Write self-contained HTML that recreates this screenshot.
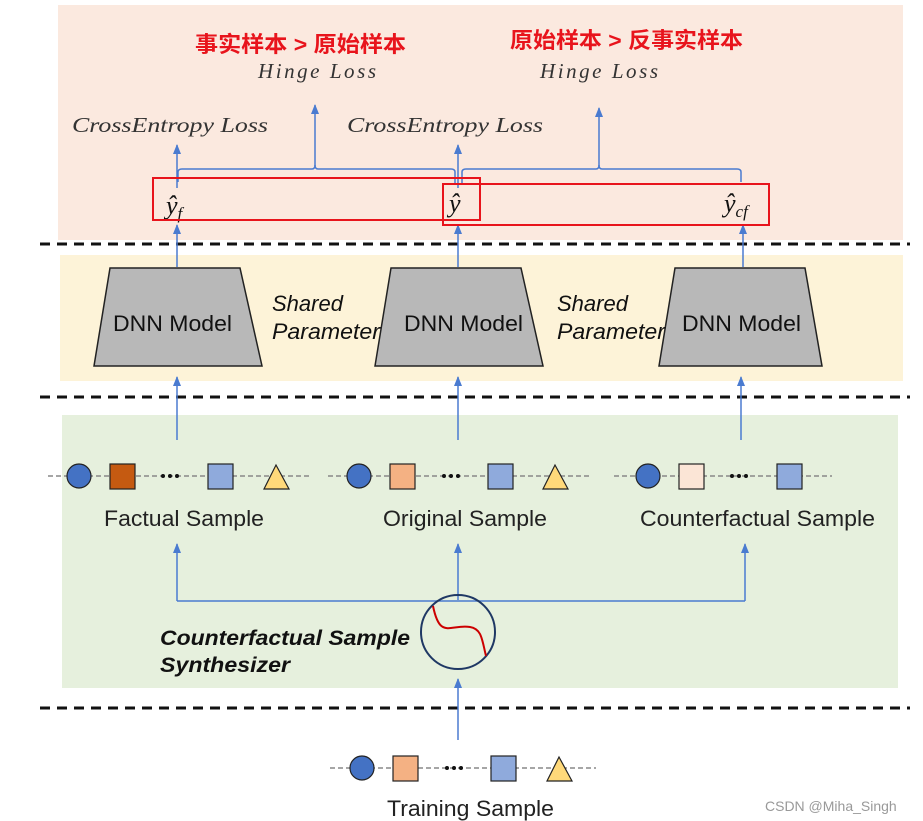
<!DOCTYPE html>
<html><head><meta charset="utf-8"><style>
body{margin:0;background:#fff;}
svg{display:block;font-family:"Liberation Sans","Noto Sans CJK SC",sans-serif;}
</style></head><body>
<svg width="923" height="821" viewBox="0 0 923 821" xmlns="http://www.w3.org/2000/svg">
<defs><marker id="a" markerWidth="10" markerHeight="10" refX="9" refY="4" orient="auto" markerUnits="userSpaceOnUse"><path d="M0,0 L10,4 L0,8 Z" fill="#4a7bd0"/></marker></defs>
<rect x="58" y="5" width="845" height="235" fill="#fbe9df"/>
<rect x="60" y="255" width="843" height="126" fill="#fdf3d8"/>
<rect x="62" y="415" width="836" height="273" fill="#e6f0dd"/>
<g stroke="#111" stroke-width="3" stroke-dasharray="10,7">
<line x1="40" y1="244" x2="910" y2="244"/><line x1="40" y1="397" x2="910" y2="397"/><line x1="40" y1="708" x2="910" y2="708"/></g>
<g fill="#e8141c" font-weight="bold" font-size="22">
<text x="195" y="52" textLength="211" lengthAdjust="spacingAndGlyphs">事实样本 &gt; 原始样本</text><text x="510" y="48" textLength="233" lengthAdjust="spacingAndGlyphs">原始样本 &gt; 反事实样本</text></g>
<g font-family="'Liberation Serif',serif" font-style="italic" font-size="21" fill="#333">
<text x="258" y="78" textLength="118" lengthAdjust="spacing">Hinge  Loss</text><text x="540" y="78" textLength="118" lengthAdjust="spacing">Hinge  Loss</text>
<text x="72" y="132" textLength="196" lengthAdjust="spacingAndGlyphs">CrossEntropy Loss</text><text x="347" y="132" textLength="196" lengthAdjust="spacingAndGlyphs">CrossEntropy Loss</text></g>
<g font-family="'Liberation Serif',serif" font-style="italic" font-size="26" fill="#111">
<text x="166" y="214">ŷ<tspan font-size="17" dy="5">f</tspan></text>
<text x="449" y="212">ŷ</text>
<text x="724" y="212">ŷ<tspan font-size="17" dy="5">cf</tspan></text></g>
<g stroke="#4a7bd0" stroke-width="1.5" fill="none">
<line x1="177" y1="188" x2="177" y2="145" marker-end="url(#a)"/>
<line x1="458" y1="188" x2="458" y2="145" marker-end="url(#a)"/>
<path d="M178,182 V172 Q178,169 182,169 H312 Q315,169 315,165 Q315,169 318,169 H451 Q455,169 455,172 V185"/>
<path d="M462,185 V172 Q462,169 466,169 H596 Q599,169 599,165 Q599,169 602,169 H737 Q741,169 741,172 V182"/>
<line x1="315" y1="166" x2="315" y2="105" marker-end="url(#a)"/>
<line x1="599" y1="166" x2="599" y2="108" marker-end="url(#a)"/>
<line x1="177" y1="267" x2="177" y2="225" marker-end="url(#a)"/>
<line x1="458" y1="267" x2="458" y2="225" marker-end="url(#a)"/>
<line x1="743" y1="267" x2="743" y2="225" marker-end="url(#a)"/>
<line x1="177" y1="440" x2="177" y2="377" marker-end="url(#a)"/>
<line x1="458" y1="440" x2="458" y2="377" marker-end="url(#a)"/>
<line x1="741" y1="440" x2="741" y2="377" marker-end="url(#a)"/>
<path d="M177,601 H745"/>
<line x1="177" y1="601" x2="177" y2="544" marker-end="url(#a)"/>
<line x1="745" y1="601" x2="745" y2="544" marker-end="url(#a)"/>
<line x1="458" y1="600" x2="458" y2="544" marker-end="url(#a)"/>
<line x1="458" y1="740" x2="458" y2="679" marker-end="url(#a)"/>
</g>
<g stroke="#e8141c" stroke-width="2" fill="none">
<rect x="153" y="178" width="327" height="42"/><rect x="443" y="184" width="326" height="41"/></g>
<g fill="#b8b8b8" stroke="#222" stroke-width="1.5">
<path d="M110,268 H240 L262,366 H94 Z"/><path d="M391,268 H521 L543,366 H375 Z"/><path d="M675,268 H805 L822,366 H659 Z"/></g>
<g font-size="22" fill="#111"><text x="113" y="331" textLength="119" lengthAdjust="spacingAndGlyphs">DNN Model</text><text x="404" y="331" textLength="119" lengthAdjust="spacingAndGlyphs">DNN Model</text><text x="682" y="331" textLength="119" lengthAdjust="spacingAndGlyphs">DNN Model</text></g>
<g font-size="22" fill="#111" font-style="italic"><text x="272" y="311">Shared</text><text x="272" y="339" textLength="108" lengthAdjust="spacingAndGlyphs">Parameter</text><text x="557" y="311">Shared</text><text x="557" y="339" textLength="108" lengthAdjust="spacingAndGlyphs">Parameter</text></g>
<g stroke="#888" stroke-width="1.5" stroke-dasharray="5,3"><line x1="48" y1="476" x2="310" y2="476"/><line x1="328" y1="476" x2="592" y2="476"/><line x1="614" y1="476" x2="832" y2="476"/><line x1="330" y1="768" x2="596" y2="768"/></g>
<g stroke="#222" stroke-width="1.2">
<circle cx="79" cy="476" r="12" fill="#4472c4"/><rect x="110" y="464" width="25" height="25" fill="#c55a11"/><rect x="208" y="464" width="25" height="25" fill="#8faadc"/><path d="M264,489 L276,465 L289,489 Z" fill="#ffd97a"/>
<circle cx="359" cy="476" r="12" fill="#4472c4"/><rect x="390" y="464" width="25" height="25" fill="#f4b183"/><rect x="488" y="464" width="25" height="25" fill="#8faadc"/><path d="M543,489 L555,465 L568,489 Z" fill="#ffd97a"/>
<circle cx="648" cy="476" r="12" fill="#4472c4"/><rect x="679" y="464" width="25" height="25" fill="#fbe5d6"/><rect x="777" y="464" width="25" height="25" fill="#8faadc"/>
<circle cx="362" cy="768" r="12" fill="#4472c4"/><rect x="393" y="756" width="25" height="25" fill="#f4b183"/><rect x="491" y="756" width="25" height="25" fill="#8faadc"/><path d="M547,781 L559,757 L572,781 Z" fill="#ffd97a"/></g>
<g fill="#111"><circle cx="163" cy="476" r="2"/><circle cx="170" cy="476" r="2"/><circle cx="177" cy="476" r="2"/>
<circle cx="444" cy="476" r="2"/><circle cx="451" cy="476" r="2"/><circle cx="458" cy="476" r="2"/>
<circle cx="732" cy="476" r="2"/><circle cx="739" cy="476" r="2"/><circle cx="746" cy="476" r="2"/>
<circle cx="447" cy="768" r="2"/><circle cx="454" cy="768" r="2"/><circle cx="461" cy="768" r="2"/></g>
<g font-size="22" fill="#222"><text x="104" y="526" textLength="160" lengthAdjust="spacingAndGlyphs">Factual Sample</text><text x="383" y="526" textLength="164" lengthAdjust="spacingAndGlyphs">Original Sample</text><text x="640" y="526" textLength="235" lengthAdjust="spacingAndGlyphs">Counterfactual Sample</text><text x="387" y="816" textLength="167" lengthAdjust="spacingAndGlyphs">Training Sample</text></g>
<g font-size="21" font-weight="bold" font-style="italic" fill="#111"><text x="160" y="645" textLength="250" lengthAdjust="spacingAndGlyphs">Counterfactual Sample</text><text x="160" y="672" textLength="130" lengthAdjust="spacingAndGlyphs">Synthesizer</text></g>
<circle cx="458" cy="632" r="37" fill="none" stroke="#1f3864" stroke-width="2"/>
<path d="M433,606 C440,640 450,624 470,627 C482,629 482,640 486,656" fill="none" stroke="#c00" stroke-width="2"/>
<text x="765" y="811" font-size="14" fill="#999">CSDN @Miha_Singh</text>
</svg>
</body></html>
